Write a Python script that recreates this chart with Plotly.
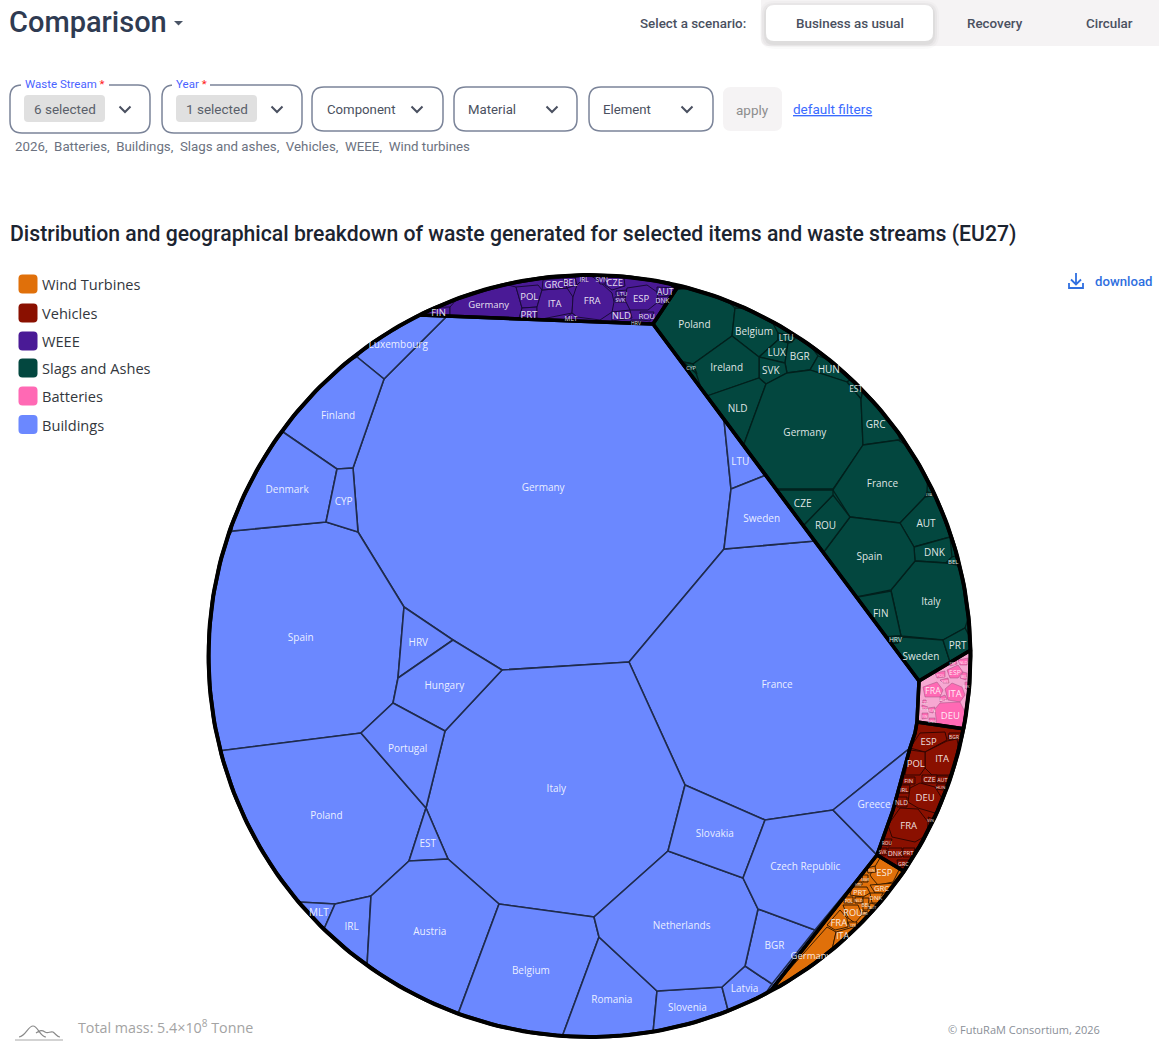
import math
import plotly.graph_objects as go

# ---------------- data ----------------
# Voronoi treemap cells: Plotly has no such trace, so each cell's outline is
# read from the reference and drawn as a filled polygon on the axes.
CENTER_X, CENTER_Y, RADIUS = 589.5, 656.0, 381.0

GROUP_NAMES = ["Wind Turbines", "Vehicles", "WEEE", "Slags and Ashes", "Batteries", "Buildings"]
GROUP_COLORS = ["#e0700a", "#8a1000", "#4a1a96", "#03473f", "#ff69b4", "#6b88ff"]

BUILDINGS_OUTLINE = [(420,315),(653,324),(919,681),(917,722),(915,733),(910,748),(893,810),(877,855),(772,989),(589,1037),(208,656)]
SLAGS_OUTLINE = [(653,324),(677,288),(860,388),(971,650),(919,681)]
WEEE_OUTLINE = [(420,315),(677,288),(653,324)]
BATTERIES_OUTLINE = [(919,681),(971,650),(965,729),(917,722)]
VEHICLES_OUTLINE = [(917,722),(965,729),(905,872),(877,855),(893,810),(910,748),(915,733)]
WIND_OUTLINE = [(877,855),(905,872),(772,989)]

BUILDINGS_NAMES = ["Germany","France","Italy","Spain","Poland","Luxembourg","Finland","Denmark","CYP","HRV","Hungary","Portugal","EST","MLT","IRL","Austria","Belgium","Romania","Slovenia","Latvia","BGR","Netherlands","Slovakia","Czech Republic","Greece","LTU","Sweden"]
BUILDINGS_CELLS = [
 [(447,316),(653,324),(724,420),(731,489),(724,549),(629,662),(502,670),(453,640),(404,607),(358,532),(353,468),(384,379)],
 [(629,662),(724,549),(815,541),(919,681),(917,722),(915,733),(910,748),(833,810),(765,820),(685,785)],
 [(502,670),(629,662),(685,785),(668,851),(594,917),(499,904),(448,859),(426,808),(445,731)],
 [(232,531),(326,522),(358,532),(404,607),(398,678),(393,703),(361,733),(218,751)],
 [(218,751),(361,733),(426,808),(409,861),(371,896),(335,904),(298,902)],
 [(357,357),(384,379),(447,316),(420,315)],
 [(357,357),(384,379),(353,468),(337,469),(283,432)],
 [(283,432),(337,469),(326,522),(232,531)],
 [(337,469),(353,468),(358,532),(326,522)],
 [(404,607),(453,640),(398,678)],
 [(453,640),(502,670),(445,731),(393,703),(398,678)],
 [(393,703),(445,731),(426,808),(361,733)],
 [(426,808),(448,859),(409,861)],
 [(298,902),(335,904),(324,929)],
 [(335,904),(371,896),(367,966),(324,929)],
 [(409,861),(448,859),(499,904),(458,1014),(367,966),(371,896)],
 [(499,904),(594,917),(599,937),(562,1037),(458,1014)],
 [(599,937),(657,991),(653,1033),(562,1037)],
 [(657,991),(722,987),(728,1010),(653,1033)],
 [(745,966),(772,984),(728,1010),(722,987)],
 [(758,909),(815,930),(772,984),(745,966)],
 [(668,851),(743,878),(758,909),(745,966),(722,987),(657,991),(599,937),(594,917)],
 [(685,785),(765,820),(743,878),(668,851)],
 [(765,820),(833,810),(877,855),(815,930),(758,909),(743,878)],
 [(910,748),(893,810),(877,855),(833,810)],
 [(724,420),(766,475),(731,489)],
 [(731,489),(766,475),(815,541),(724,549)],
]

SLAGS_NAMES = ["Poland","Belgium","LTU","LUX","BGR","HUN","EST","SVK","Ireland","CYP","NLD","Germany","GRC","France","LVA","AUT","DNK","BEL","Italy","Spain","ROU","CZE","FIN","HRV","Sweden","PRT"]
SLAGS_CELLS = [
 [(677,288),(735,308),(732,336),(693,364),(683,362),(650,326)],
 [(735,308),(778,333),(778,340),(759,357),(732,336)],
 [(778,333),(797,337),(792,342),(778,340)],
 [(778,340),(788,343),(785,363),(759,357)],
 [(792,342),(796,337),(818,356),(810,370),(787,373),(785,363),(788,343)],
 [(818,356),(850,380),(847,382),(810,370)],
 [(850,380),(863,390),(861,399),(847,382)],
 [(759,357),(785,363),(787,373),(766,384),(759,378)],
 [(732,336),(759,357),(759,378),(704,397),(693,364)],
 [(693,364),(697,374),(683,362)],
 [(704,397),(759,378),(766,384),(741,452)],
 [(766,384),(787,373),(810,370),(847,382),(861,399),(863,445),(833,489),(770,489),(741,452)],
 [(861,399),(863,390),(900,440),(863,445)],
 [(863,445),(898,440),(927,492),(925,497),(900,523),(850,517),(833,490)],
 [(927,492),(935,493),(925,497)],
 [(925,497),(935,495),(950,537),(914,547),(900,523)],
 [(914,547),(950,537),(952,557),(946,563),(915,561)],
 [(946,563),(952,557),(955,556),(960,564)],
 [(915,561),(946,563),(957,565),(965,628),(943,640),(901,636),(891,590)],
 [(850,517),(900,523),(914,547),(915,561),(891,590),(852,598),(820,557)],
 [(833,495),(850,517),(820,557),(801,528)],
 [(770,490),(833,490),(833,495),(801,528)],
 [(852,598),(891,591),(901,636),(884,637)],
 [(901,636),(903,640),(898,643),(884,637)],
 [(903,637),(943,640),(950,662),(916,683),(888,644),(898,643)],
 [(943,640),(965,628),(970,651),(950,662)],
]

WEEE_NAMES = ["FIN","Germany","POL","PRT","ITA","GRC","BEL","IRL","FRA","MLT","SVN","CZE","LTU","SVK","ESP","AUT","DNK","NLD","HRV","ROU"]
WEEE_CELLS = [
 [(420,315),(450,307),(450,316)],
 [(450,307),(516,287),(522,308),(519,318),(450,318)],
 [(516,287),(538,285),(542,290),(537,307),(522,308)],
 [(522,308),(537,307),(537,320),(519,320)],
 [(542,290),(567,288),(573,297),(572,313),(537,320),(537,307)],
 [(543,280),(563,278),(567,288),(542,290)],
 [(563,278),(575,277),(577,285),(567,288)],
 [(575,277),(596,275),(600,282),(577,285)],
 [(577,285),(600,282),(612,293),(614,302),(612,312),(600,320),(577,317),(572,313),(573,297)],
 [(572,313),(577,317),(574,322),(563,320)],
 [(596,275),(605,275),(606,284),(600,284)],
 [(606,276),(624,278),(625,286),(612,290),(605,285)],
 [(616,291),(627,290),(628,295),(622,296),(616,295)],
 [(615,297),(625,297),(626,302),(615,302)],
 [(627,288),(647,285),(657,292),(658,302),(648,310),(630,310),(625,300)],
 [(657,287),(675,288),(670,296),(657,293)],
 [(657,297),(670,296),(663,305),(658,303)],
 [(612,312),(630,310),(632,318),(612,321)],
 [(631,320),(641,320),(641,324),(631,324)],
 [(640,312),(654,312),(650,321),(642,320)],
]

BATTERIES_NAMES = ["FRA","ITA","DEU","ESP","POL","NLD","BEL","SWE","AUT","CZE","ROU","HUN","FIN","DNK","PRT","SVK"]
BATTERIES_CELLS = [
 [(923,687),(937,682),(943,690),(940,697),(925,697)],
 [(945,689),(952,683),(962,687),(965,695),(960,702),(948,700)],
 [(935,709),(940,703),(960,702),(963,728),(937,727)],
 [(947,670),(958,665),(963,672),(958,678),(950,678)],
 [(935,673),(945,671),(945,677),(937,678)],
 [(958,660),(968,658),(967,665),(960,665)],
 [(963,672),(967,673),(966,680),(960,678)],
 [(940,680),(948,678),(949,683),(943,683)],
 [(940,697),(945,695),(947,699),(940,702)],
 [(923,700),(926,700),(927,703),(922,703)],
 [(922,705),(928,707),(927,709),(922,709)],
 [(928,708),(935,707),(933,713),(929,712)],
 [(922,713),(928,713),(928,718),(922,719)],
 [(929,718),(935,718),(935,723),(929,723)],
 [(948,662),(956,660),(957,664),(950,666)],
 [(965,682),(968,682),(967,690),(965,688)],
]

VEHICLES_NAMES = ["ESP","BGR","ITA","POL","CZE","AUT","HUN","FIN","IRL","NLD","DEU","FRA","SVN","ROU","SVK","DNK","PRT","GRC"]
VEHICLES_CELLS = [
 [(920,733),(945,732),(947,740),(925,752),(910,748)],
 [(949,733),(962,733),(957,739),(948,739)],
 [(925,752),(947,741),(957,739),(950,775),(932,775),(925,768)],
 [(910,750),(925,752),(925,768),(920,775),(905,775)],
 [(922,775),(937,775),(937,783),(922,783)],
 [(937,776),(949,776),(946,783),(937,783)],
 [(937,784),(946,784),(943,790),(936,789)],
 [(903,777),(915,777),(915,784),(902,784)],
 [(900,785),(910,785),(909,793),(898,793)],
 [(895,797),(907,797),(907,807),(897,807)],
 [(910,788),(920,783),(935,787),(943,800),(935,813),(918,808),(908,802)],
 [(900,808),(918,809),(928,822),(915,842),(892,837),(888,825)],
 [(928,817),(934,819),(930,823)],
 [(883,839),(892,839),(890,846),(882,845)],
 [(880,848),(887,848),(886,855),(878,855)],
 [(888,848),(902,848),(902,857),(888,857)],
 [(903,848),(915,848),(912,857),(903,857)],
 [(897,860),(910,860),(908,867),(898,866)],
]

WIND_NAMES = ["Germany","ITA","FRA","ROU","PRT","ESP","BGR","HRV","GRC","DNK","POL","NLD","BEL","AUT","SWE","CZE","FIN"]
WIND_CELLS = [
 [(772,989),(827,927),(836,932),(832,950)],
 [(836,932),(850,928),(857,925),(860,932),(832,950)],
 [(840,910),(847,918),(848,927),(835,930),(827,925)],
 [(843,905),(858,905),(862,915),(855,923),(848,918)],
 [(852,887),(867,887),(870,893),(863,897),(850,895)],
 [(880,858),(900,868),(893,882),(878,885),(872,878),(870,875)],
 [(862,875),(868,875),(868,882),(863,882)],
 [(855,882),(862,882),(862,885),(855,885)],
 [(870,885),(895,883),(885,893),(875,893)],
 [(870,893),(883,893),(878,903),(872,903)],
 [(845,897),(853,897),(853,903),(844,903)],
 [(855,897),(863,897),(862,903),(855,903)],
 [(863,898),(869,898),(868,910),(863,910)],
 [(870,903),(878,905),(873,910),(869,909)],
 [(863,911),(868,912),(865,915),(862,915)],
 [(848,922),(857,922),(856,927),(850,927)],
 [(867,868),(875,866),(876,872),(868,873)],
]

FILTER_LABELS = ["Component", "Material", "Element"]
SCENARIOS = ["Business as usual", "Recovery", "Circular"]
FILTER_SUMMARY = ["2026", "Batteries", "Buildings", "Slags and ashes", "Vehicles", "WEEE", "Wind turbines"]
TOTAL_MASS = "Total mass: 5.4×10<sup>8</sup> Tonne"

# ---------------- geometry helpers ----------------
def near(p):
    return math.hypot(p[0]-CENTER_X, p[1]-CENTER_Y) >= RADIUS - 10

def with_arcs(poly):
    out = []
    n = len(poly)
    for i in range(n):
        p, q = poly[i], poly[(i+1) % n]
        out.append(p)
        if near(p) and near(q):
            a = math.atan2(p[1]-CENTER_Y, p[0]-CENTER_X)
            b = math.atan2(q[1]-CENTER_Y, q[0]-CENTER_X)
            d = (b-a+math.pi) % (2*math.pi) - math.pi
            steps = max(1, int(abs(d)/0.03))
            for k in range(1, steps):
                t = a + d*k/steps
                out.append((CENTER_X+(RADIUS+1)*math.cos(t), CENTER_Y+(RADIUS+1)*math.sin(t)))
    return out

def clip_circle(poly):
    m = 240
    ring = [(CENTER_X+RADIUS*math.cos(2*math.pi*i/m), CENTER_Y+RADIUS*math.sin(2*math.pi*i/m)) for i in range(m)]
    res = poly
    for i in range(m):
        a, b = ring[i], ring[(i+1) % m]
        side = lambda p: (b[0]-a[0])*(p[1]-a[1])-(b[1]-a[1])*(p[0]-a[0])
        cur, res = res, []
        for j in range(len(cur)):
            p, q = cur[j], cur[(j+1) % len(cur)]
            sp, sq = side(p), side(q)
            if sp >= 0:
                res.append(p)
            if sp*sq < 0:
                t = sp/(sp-sq)
                res.append((p[0]+t*(q[0]-p[0]), p[1]+t*(q[1]-p[1])))
        if not res:
            return poly
    return res

def prepare(poly):
    return clip_circle(with_arcs(poly))

def area_centroid(poly):
    a = cx = cy = 0.0
    for i in range(len(poly)):
        p, q = poly[i], poly[(i+1) % len(poly)]
        c = p[0]*q[1]-q[0]*p[1]
        a += c; cx += (p[0]+q[0])*c; cy += (p[1]+q[1])*c
    if abs(a) < 1e-6:
        return 0.0, poly[0][0], poly[0][1]
    return abs(a)/2, cx/(3*a), cy/(3*a)

def round_rect(x0, y0, x1, y1, r):
    return (f"M{x0+r},{y0} L{x1-r},{y0} Q{x1},{y0} {x1},{y0+r} L{x1},{y1-r} Q{x1},{y1} {x1-r},{y1} "
            f"L{x0+r},{y1} Q{x0},{y1} {x0},{y1-r} L{x0},{y0+r} Q{x0},{y0} {x0+r},{y0} Z")

# ---------------- figure ----------------
fig = go.Figure()

# Buildings go after Slags/WEEE so it trims their overlap at the shared border.
GROUPS = [
 ("Slags and Ashes", SLAGS_OUTLINE, SLAGS_NAMES, SLAGS_CELLS, "#03473f", "#02201c", 1.3, 0.8, 10),
 ("WEEE", WEEE_OUTLINE, WEEE_NAMES, WEEE_CELLS, "#4a1a96", "#1a0a3a", 1.0, 0.8, 9.5),
 ("Buildings", BUILDINGS_OUTLINE, BUILDINGS_NAMES, BUILDINGS_CELLS, "#6b88ff", "#1f2b4d", 1.6, 0.8, 10),
 ("Batteries", BATTERIES_OUTLINE, BATTERIES_NAMES, BATTERIES_CELLS, "#f7a8d2", "#9c5580", 0.5, 0.6, 9.5),
 ("Vehicles", VEHICLES_OUTLINE, VEHICLES_NAMES, VEHICLES_CELLS, "#8a1000", "#2a0500", 0.9, 0.62, 9.5),
 ("Wind Turbines", WIND_OUTLINE, WIND_NAMES, WIND_CELLS, "#e0700a", "#2a1500", 0.9, 0.62, 9.5),
]
CELL_FILL = {"Batteries": "#ff69b4"}

def add_poly(poly, fill, line, width):
    xs = [p[0] for p in poly] + [poly[0][0]]
    ys = [p[1] for p in poly] + [poly[0][1]]
    fig.add_trace(go.Scatter(x=xs, y=ys, mode="lines", fill="toself", fillcolor=fill,
                             line=dict(color=line, width=width), hoverinfo="skip", showlegend=False))

label_x, label_y, label_t, label_s = [], [], [], []
for gname, outline, names, cells, fill, lc, lw, factor, top in GROUPS:
    add_poly(prepare(outline), fill, fill, 0.1)
    for nm, cell in zip(names, cells):
        poly = prepare(cell)
        add_poly(poly, CELL_FILL.get(gname, fill), lc, lw)
        a, cx, cy = area_centroid(poly)
        label_x.append(cx); label_y.append(cy+1.5); label_t.append(nm)
        label_s.append(max(3.5, min(top, factor*math.sqrt(a))))

for gname, outline, names, cells, fill, lc, lw, factor, top in GROUPS:
    poly = prepare(outline)
    fig.add_trace(go.Scatter(x=[p[0] for p in poly]+[poly[0][0]], y=[p[1] for p in poly]+[poly[0][1]],
                             mode="lines", line=dict(color="#000000", width=3.5),
                             hoverinfo="skip", showlegend=False))

angles = [2*math.pi*i/360 for i in range(361)]
fig.add_trace(go.Scatter(x=[CENTER_X+RADIUS*math.cos(t) for t in angles],
                         y=[CENTER_Y+RADIUS*math.sin(t) for t in angles],
                         mode="lines", line=dict(color="#000000", width=4),
                         hoverinfo="skip", showlegend=False))

fig.add_trace(go.Scatter(x=label_x, y=label_y, text=label_t, mode="text",
                         textfont=dict(family="Open Sans", size=label_s, color="rgba(255,255,255,0.88)"),
                         textposition="middle center", hoverinfo="skip", showlegend=False))

shapes, ann = [], []

def text(x, y, t, size, color, family="Roboto", anchor="left", weight=400):
    ann.append(dict(x=x, y=y, text=t, showarrow=False, xanchor=anchor, yanchor="middle", xref="x", yref="y",
                    borderpad=0, font=dict(family=family, size=size, color=color, weight=weight)))

def rect(x0, y0, x1, y1, r, fill="rgba(0,0,0,0)", line="rgba(0,0,0,0)", w=0):
    shapes.append(dict(type="path", xref="x", yref="y", path=round_rect(x0, y0, x1, y1, r), fillcolor=fill,
                       line=dict(color=line, width=w)))

def chevron(x, y):
    shapes.append(dict(type="path", xref="x", yref="y", path=f"M{x-5.5},{y-2.5} L{x},{y+3} L{x+5.5},{y-2.5}",
                       line=dict(color="#4a5060", width=2)))

# Header
text(8, 22, "Comparison", 29, "#2f3b52", weight=500)
shapes.append(dict(type="path", xref="x", yref="y", path="M174,21 L183,21 L178.5,25.5 Z", fillcolor="#4a5566", line=dict(width=0)))
text(638.5, 23.5, "Select a scenario:", 13.4, "#4a5060", weight=500)
rect(761, -12, 1175, 46, 8, fill="#f5f3f4")
for d, a in ((6, .02), (4, .03), (2, .04)):
    rect(766-d, 5-d+2, 933+d, 41+d+2, 8+d, fill=f"rgba(0,0,0,{a})")
rect(766, 5, 933, 41, 8, fill="#ffffff")
for cx, s in zip((850, 995, 1109), SCENARIOS):
    text(cx, 23.5, s, 13.4, "#4a5060", anchor="center", weight=500)

# Filters
BORDER = "#7b8499"
rect(10, 85, 150, 133, 12, fill="#ffffff", line=BORDER, w=1.5)
rect(162, 85, 302, 133, 12, fill="#ffffff", line=BORDER, w=1.5)
shapes.append(dict(type="rect", xref="x", yref="y", x0=21, x1=109, y0=82, y1=89, fillcolor="#ffffff", line=dict(width=0)))
shapes.append(dict(type="rect", xref="x", yref="y", x0=172, x1=210, y0=82, y1=89, fillcolor="#ffffff", line=dict(width=0)))
text(23.5, 83.5, 'Waste Stream <span style="color:#ff2020">*</span>', 11.5, "#4a63ff")
text(174.5, 83.5, 'Year <span style="color:#ff2020">*</span>', 11.5, "#4a63ff")
rect(24, 95, 105, 122, 4, fill="#e0e0e0")
rect(176, 95, 257, 122, 4, fill="#e0e0e0")
text(64.5, 109, "6 selected", 13.5, "#5a5f6a", anchor="center")
text(216.5, 109, "1 selected", 13.5, "#5a5f6a", anchor="center")
chevron(125, 109); chevron(277, 109)
for (x0, x1, tx, cv), s in zip(((312, 443, 326, 417), (454, 577, 467, 552), (589, 713, 602, 687)), FILTER_LABELS):
    rect(x0, 87, x1, 131, 12, fill="#ffffff", line=BORDER, w=1.5)
    text(tx, 109, s, 13.2, "#4a5060")
    chevron(cv, 109)
rect(723, 87, 782, 131, 8, fill="#f5f3f4")
text(752.5, 109.5, "apply", 13.5, "#8d8d8d", anchor="center")
text(791.5, 109, "<u>default filters</u>", 13.5, "#3b6bff")
text(14, 146, ",\u00a0 ".join(FILTER_SUMMARY), 13.3, "#6b7280")

# Title
text(9, 233.5, "Distribution and geographical breakdown of waste generated for selected items and waste streams (EU27)", 21.2, "#1c2430", weight=500)

# Legend
for y, nm, col in zip((284, 313, 341, 368, 396, 424.5), GROUP_NAMES, GROUP_COLORS):
    rect(18.5, y-9.5, 37.5, y+9.5, 4, fill=col)
    text(40.5, y, nm, 14.6, "#33373d", family="Open Sans")

# Download
DL = "#2f6fe0"
shapes.append(dict(type="path", xref="x", yref="y", path="M1076,273 L1076,284 M1071,279.5 L1076,284.5 L1081,279.5", line=dict(color=DL, width=1.8)))
shapes.append(dict(type="path", xref="x", yref="y", path="M1069,283 L1069,288 L1083,288 L1083,283", line=dict(color=DL, width=1.8)))
text(1093.5, 281, "download", 13.2, DL, weight=500)

# Footer
shapes.append(dict(type="path", xref="x", yref="y", path="M19,1037 C26,1036 28,1026 33,1026 C38,1026 40,1037 46,1037 M36,1033 C40,1030 42,1030 45,1032 C48,1034 50,1031 53,1032 C56,1034 57,1037 60,1037",
                   line=dict(color="#8a8a8a", width=1.2)))
shapes.append(dict(type="path", xref="x", yref="y", path="M15,1040 L63,1040", line=dict(color="#c4c4c4", width=1.5)))
text(76.5, 1026.5, TOTAL_MASS, 14.3, "#a3a3a3", family="Open Sans")
text(946.5, 1029, "© FutuRaM Consortium, 2026", 11, "#8a8f98", family="Open Sans")

fig.update_layout(
    width=1159, height=1041, margin=dict(l=0, r=0, t=0, b=0, pad=0),
    paper_bgcolor="#ffffff", plot_bgcolor="#ffffff", showlegend=False, dragmode=False,
    xaxis=dict(range=[0, 1159], visible=False, fixedrange=True),
    yaxis=dict(range=[1041, 0], visible=False, fixedrange=True),
    shapes=shapes, annotations=ann,
)
fig.write_html("out.html", config=dict(displayModeBar=False),
               post_script="document.body.style.margin='0';document.body.style.overflow='hidden';")
